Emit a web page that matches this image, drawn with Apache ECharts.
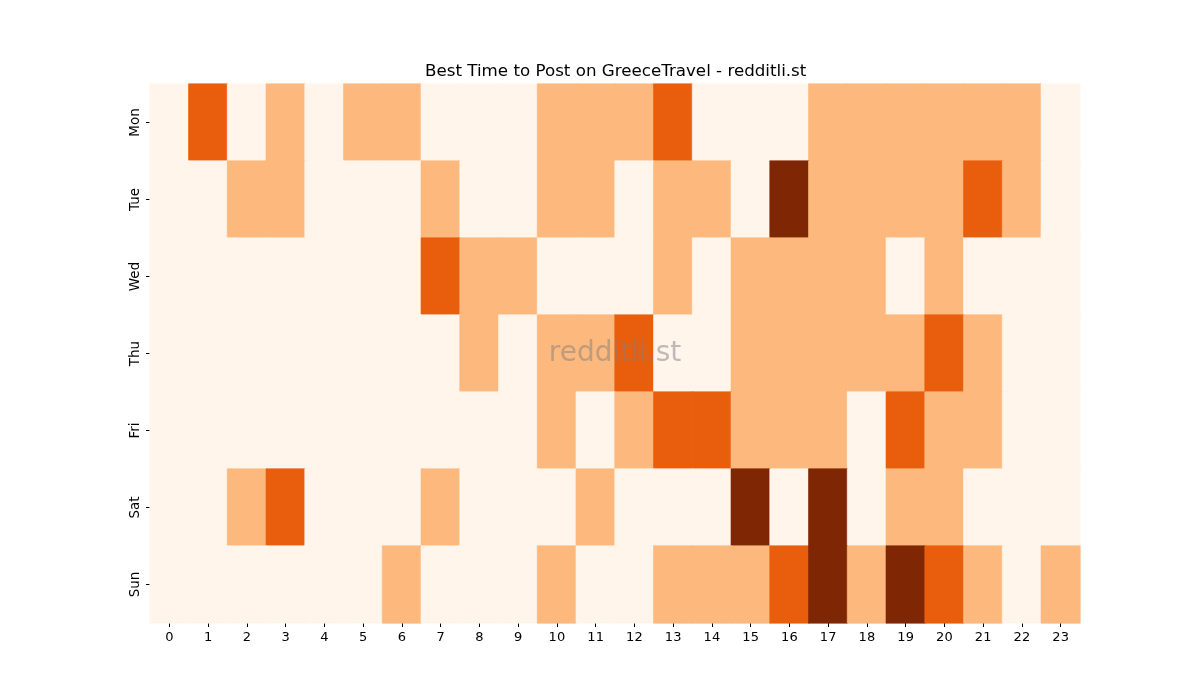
<!DOCTYPE html>
<html>
<head>
<meta charset="utf-8">
<script src="https://cdn.jsdelivr.net/npm/echarts@6/dist/echarts.min.js"></script>
<style>
html,body{margin:0;padding:0;background:#fff;}
#chart{width:1200px;height:700px;}
</style>
</head>
<body>
<div id="chart"></div>
<script>
const hours = ['0','1','2','3','4','5','6','7','8','9','10','11','12','13','14','15','16','17','18','19','20','21','22','23'];
const days = ['Mon','Tue','Wed','Thu','Fri','Sat','Sun'];
const mon = [0,2,0,1,0,1,1,0,0,0,1,1,1,2,0,0,0,1,1,1,1,1,1,0];
const tue = [0,0,1,1,0,0,0,1,0,0,1,1,0,1,1,0,3,1,1,1,1,2,1,0];
const wed = [0,0,0,0,0,0,0,2,1,1,0,0,0,1,0,1,1,1,1,0,1,0,0,0];
const thu = [0,0,0,0,0,0,0,0,1,0,1,1,2,0,0,1,1,1,1,1,2,1,0,0];
const fri = [0,0,0,0,0,0,0,0,0,0,1,0,1,2,2,1,1,1,0,2,1,1,0,0];
const sat = [0,0,1,2,0,0,0,1,0,0,0,1,0,0,0,3,0,3,0,1,1,0,0,0];
const sun = [0,0,0,0,0,0,1,0,0,0,1,0,0,1,1,1,2,3,1,3,2,1,0,1];
const rows = [mon, tue, wed, thu, fri, sat, sun];
const levelColors = ['#fff5eb', '#fdb97d', '#e95e0d', '#7f2704'];

const data = [];
rows.forEach((r, yi) => r.forEach((v, xi) => data.push({
  value: [xi, yi, v],
  itemStyle: {color: levelColors[v], borderColor: levelColors[v], borderWidth: 0.6}
})));

const chart = echarts.init(document.getElementById('chart'));
const font = 'DejaVu Sans';
chart.setOption({
  backgroundColor: '#ffffff',
  animation: false,
  title: {
    text: 'Best Time to Post on GreeceTravel - redditli.st',
    left: 420, top: 58,
    textStyle: {fontFamily: font, fontSize: 16.7, fontWeight: 'normal', color: '#000'}
  },
  grid: {left: 150, right: 120, top: 84, bottom: 77},
  xAxis: {
    type: 'category', data: hours,
    axisLine: {show: false},
    axisTick: {show: true, alignWithLabel: true, length: 4, lineStyle: {color: '#000', width: 1}},
    axisLabel: {fontFamily: font, fontSize: 13, color: '#000', margin: 8},
    splitLine: {show: false}, splitArea: {show: false}
  },
  yAxis: {
    type: 'category', data: days, inverse: true,
    axisLine: {show: false},
    axisTick: {show: true, alignWithLabel: true, length: 4, lineStyle: {color: '#000', width: 1}},
    axisLabel: {fontFamily: font, fontSize: 13.5, color: '#000', rotate: 90, margin: 8},
    splitLine: {show: false}, splitArea: {show: false}
  },
  series: [{
    type: 'heatmap', data: data,
    emphasis: {disabled: true}
  }],
  graphic: [{
    type: 'text',
    style: {text: 'redditli.st', x: 615, y: 354, textAlign: 'center', textVerticalAlign: 'middle',
      font: '28px "DejaVu Sans"', fill: 'rgba(128,128,128,0.5)'},
    z: 100
  }]
});
</script>
</body>
</html>
